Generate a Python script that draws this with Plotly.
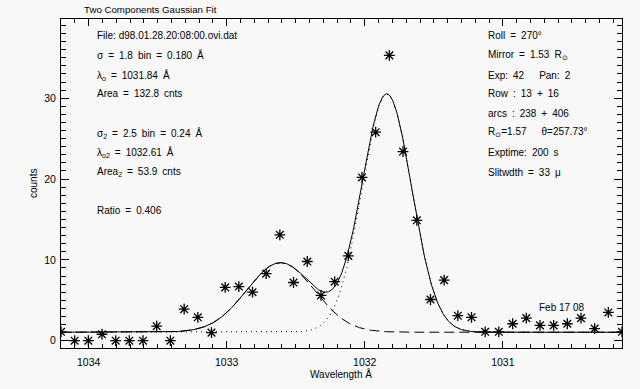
import numpy as np
import plotly.graph_objects as go

# ---- data ----
wavelength = [1034.200, 1034.101, 1034.002, 1033.903, 1033.804, 1033.705, 1033.606,
              1033.507, 1033.408, 1033.308, 1033.209, 1033.110, 1033.011, 1032.912,
              1032.813, 1032.714, 1032.615, 1032.516, 1032.416, 1032.317, 1032.218,
              1032.119, 1032.020, 1031.921, 1031.822, 1031.723, 1031.623, 1031.524,
              1031.425, 1031.326, 1031.227, 1031.128, 1031.029, 1030.929, 1030.830,
              1030.731, 1030.632, 1030.533, 1030.434, 1030.335, 1030.236, 1030.137]
counts = [1.1, 0.0, 0.0, 0.8, 0.0, 0.0, 0.0, 1.8, 0.0, 3.9, 2.9, 1.0, 6.6, 6.7,
          6.0, 8.3, 13.1, 7.2, 9.8, 5.6, 7.3, 10.5, 20.2, 25.8, 35.3, 23.4, 14.9, 5.1,
          7.5, 3.1, 2.9, 1.1, 1.1, 2.1, 2.8, 1.9, 1.9, 2.1, 2.8, 1.5, 3.5, 1.1]

# fit parameters (from the annotations on the chart)
baseline = 1.05
center1, sigma1_bin, sigma1_A, area1 = 1031.84, 1.8, 0.180, 132.8
center2, sigma2_bin, sigma2_A, area2 = 1032.61, 2.5, 0.245, 53.9

S = "\u2002"  # wider space, like the original vector font
left_lines = ["File: d98.01.28.20:08:00.ovi.dat",
              f"σ{S}={S}1.8{S}bin{S}={S}0.180{S}Å",
              f"λ<sub>o</sub>{S}={S}1031.84{S}Å",
              f"Area{S}={S}132.8{S}cnts",
              f"σ<sub>2</sub>{S}={S}2.5{S}bin{S}={S}0.24{S}Å",
              f"λ<sub>o2</sub>{S}={S}1032.61{S}Å",
              f"Area<sub>2</sub>{S}={S}53.9{S}cnts",
              f"Ratio{S}={S}0.406"]
left_y_px = [36, 55, 75, 94, 133, 152, 172, 210]
right_lines = [f"Roll{S}={S}270°",
               f"Mirror{S}={S}1.53{S}R<sub>⊙</sub>",
               f"Exp:{S}42{S}{S}{S}Pan:{S}2",
               f"Row{S}:{S}13{S}+{S}16",
               f"arcs{S}:{S}238{S}+{S}406",
               f"R<sub>⊙</sub>=1.57{S}{S}{S}θ=257.73°",
               f"Exptime:{S}200{S}s",
               f"Slitwdth{S}={S}33{S}μ"]
right_y_px = [35, 55, 75, 94, 113, 132, 152, 172]

# ---- fit model ----
xf = np.linspace(wavelength[0], wavelength[-1], 800)
g1 = area1 / (sigma1_bin * np.sqrt(2 * np.pi)) * np.exp(-(xf - center1) ** 2 / (2 * sigma1_A ** 2))
g2 = area2 / (sigma2_bin * np.sqrt(2 * np.pi)) * np.exp(-(xf - center2) ** 2 / (2 * sigma2_A ** 2))

W, H = 640, 389
L, R, T, B = 61, 18, 19, 41
pw, ph = W - L - R, H - T - B

def px(x):
    return (x - L) / pw

def py(y):
    return (H - B - y) / ph

FONT = "Liberation Sans, Arial, sans-serif"
BG = "#f8f8f8"
TXT = dict(family=FONT, size=10, color="black")

fig = go.Figure()
fig.add_trace(go.Scatter(x=xf, y=g1 + g2 + baseline, mode="lines",
                         line=dict(color="black", width=1), hoverinfo="skip"))
fig.add_trace(go.Scatter(x=xf, y=g1 + baseline, mode="lines",
                         line=dict(color="black", width=1, dash="1px,4px"), hoverinfo="skip"))
fig.add_trace(go.Scatter(x=xf, y=g2 + baseline, mode="lines",
                         line=dict(color="black", width=1, dash="10px,5px"), hoverinfo="skip"))
fig.add_trace(go.Scatter(x=wavelength, y=counts, mode="markers",
                         marker=dict(symbol="asterisk-open", size=9, color="black",
                                     line=dict(color="black", width=1.3))))

annotations = []
for t, y in zip(left_lines, left_y_px):
    annotations.append(dict(text=t, x=px(95), y=py(y), xref="paper", yref="paper",
                            xanchor="left", yanchor="middle", showarrow=False, font=TXT))
for t, y in zip(right_lines, right_y_px):
    annotations.append(dict(text=t, x=px(486), y=py(y), xref="paper", yref="paper",
                            xanchor="left", yanchor="middle", showarrow=False, font=TXT))
annotations.append(dict(text="Feb 17 08", x=px(537), y=py(307), xref="paper", yref="paper",
                        xanchor="left", yanchor="middle", showarrow=False, font=TXT))
annotations.append(dict(text="Two Components Gaussian Fit", x=px(82), y=py(9), xref="paper",
                        yref="paper", xanchor="left", yanchor="middle", showarrow=False,
                        font=dict(family=FONT, size=9.7, color="black")))
annotations.append(dict(text="Wavelength Å", x=px(341), y=py(374), xref="paper", yref="paper",
                        xanchor="center", yanchor="middle", showarrow=False, font=TXT))
annotations.append(dict(text="counts", x=px(33), y=py(184), xref="paper", yref="paper",
                        xanchor="center", yanchor="middle", textangle=-90, showarrow=False,
                        font=TXT))

axis_common = dict(showline=True, linecolor="black", linewidth=1, mirror="allticks",
                   ticks="inside", tickcolor="black", tickwidth=1, showgrid=False,
                   zeroline=False, tickfont=dict(family=FONT, size=10.5, color="black"))

fig.update_layout(
    width=W, height=H, margin=dict(l=L, r=R, t=T, b=B),
    paper_bgcolor=BG, plot_bgcolor=BG, showlegend=False,
    font=TXT,
    annotations=annotations,
    xaxis=dict(range=[wavelength[0], wavelength[-1]], dtick=1, ticklen=7,
               ticklabelstandoff=4,
               minor=dict(dtick=0.1, ticklen=4, ticks="inside", tickcolor="black"),
               **axis_common),
    yaxis=dict(range=[-0.9, 39.8], dtick=10, ticklen=8, ticklabelstandoff=2,
               minor=dict(dtick=1, ticklen=5, ticks="inside", tickcolor="black"),
               **axis_common),
)

fig.write_html("out.html", config={"displayModeBar": False},
               post_script="document.body.style.margin='0';document.body.style.background='#f8f8f8';")
